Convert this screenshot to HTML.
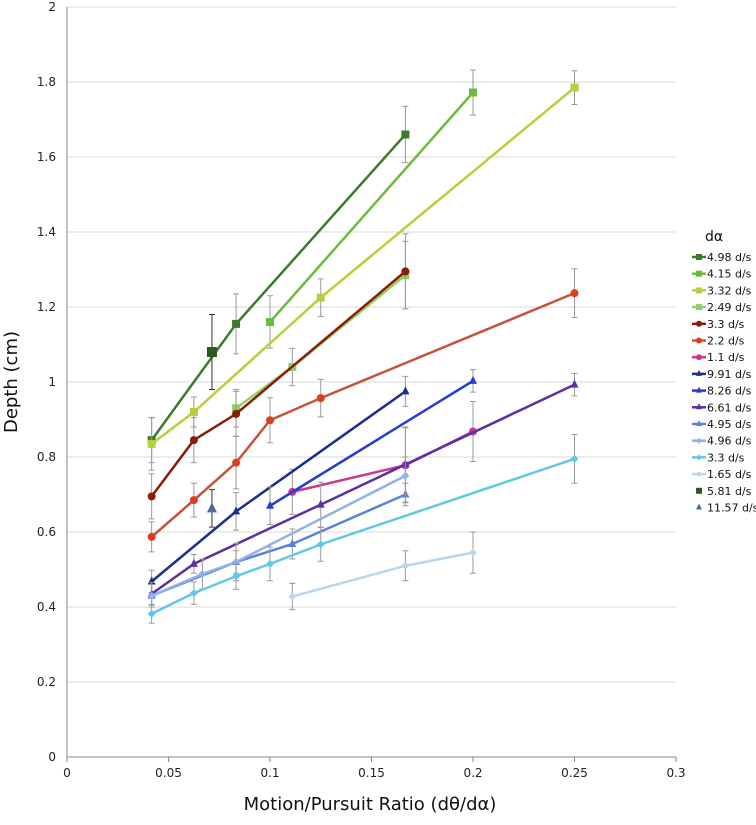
<!DOCTYPE html>
<html><head><meta charset="utf-8"><style>
body{margin:0;background:#fff;}
svg text{font-family:"DejaVu Sans","Liberation Sans",sans-serif;}
</style></head><body>
<svg id="chart" width="756" height="820"></svg>
<script>
const xTicks=[0,0.05,0.1,0.15,0.2,0.25,0.3];
const xTickLabels=["0","0.05","0.1","0.15","0.2","0.25","0.3"];
const yTicks=[0,0.2,0.4,0.6,0.8,1,1.2,1.4,1.6,1.8,2];
const yTickLabels=["0","0.2","0.4","0.6","0.8","1","1.2","1.4","1.6","1.8","2"];
const names=["4.98 d/s","4.15 d/s","3.32 d/s","2.49 d/s","3.3 d/s","2.2 d/s","1.1 d/s","9.91 d/s","8.26 d/s","6.61 d/s","4.95 d/s","4.96 d/s","3.3 d/s","1.65 d/s","5.81 d/s","11.57 d/s"];
const xs=[
[0.0417,0.0833,0.1667],
[0.1,0.2],
[0.0417,0.0625,0.125,0.25],
[0.0833,0.111,0.1667],
[0.0417,0.0625,0.0833,0.1667],
[0.0417,0.0625,0.0833,0.1,0.125,0.25],
[0.111,0.1667,0.2],
[0.0417,0.0833,0.1667],
[0.1,0.2],
[0.0417,0.0625,0.125,0.1667,0.25],
[0.0417,0.0833,0.111,0.1667],
[0.0417,0.0667,0.0833,0.1667],
[0.0417,0.0625,0.0833,0.1,0.125,0.25],
[0.111,0.1667,0.2],
[0.0714],
[0.0714]];
const ys=[
[0.845,1.155,1.66],
[1.16,1.772],
[0.835,0.92,1.225,1.785],
[0.93,1.04,1.285],
[0.695,0.845,0.915,1.295],
[0.587,0.685,0.785,0.898,0.957,1.237],
[0.707,0.778,0.868],
[0.468,0.655,0.975],
[0.67,1.003],
[0.435,0.515,0.673,0.78,0.993],
[0.43,0.52,0.568,0.70],
[0.43,0.488,0.52,0.75],
[0.382,0.437,0.482,0.515,0.567,0.795],
[0.428,0.51,0.545],
[1.08],
[0.663]];
const errs=[
[0.06,0.08,0.075],
[0.07,0.06],
[0.07,0.04,0.05,0.045],
[0.05,0.05,0.09],
[0.06,0.06,0.06,0.1],
[0.04,0.045,0.07,0.06,0.05,0.065],
[0.06,0.1,0.08],
[0.03,0.05,0.04],
[0.05,0.03],
[0.03,0.025,0.06,0.1,0.03],
[0.03,0.03,0.04,0.03],
[0.03,0.04,0.05,0.05],
[0.025,0.03,0.035,0.045,0.045,0.065],
[0.035,0.04,0.055],
[0.1],
[0.05]];
const colors=["#3d7a2a","#6cbb3c","#b3d23a","#8fd068","#8a1c08","#c8503e","#c8388c","#1f2d8e","#2a3cd0","#5a30a2","#5a82dc","#90b2e8","#60c6ec","#b8d6f0","#2e5a1e","#4a6a9a"];
const mcolors=["#3d7a2a","#6cbb3c","#b3d23a","#8fd068","#8a1c08","#e03c1c","#c8388c","#1f2d8e","#2a3cd0","#5a30a2","#5a82dc","#90b2e8","#60c6ec","#b8d6f0","#2e5a1e","#4a6a9a"];
const markers=["s","s","s","s","c","c","c","t","t","t","t","d","d","d","s","t"];

const svg=document.getElementById('chart');
const NS="http://www.w3.org/2000/svg";
const X=v=>67+v/0.3*609;
const Y=v=>757-v/2*750;
function mk(tag,attrs,parent){const e=document.createElementNS(NS,tag);for(const k in attrs)e.setAttribute(k,attrs[k]);(parent||svg).appendChild(e);return e;}

yTicks.forEach((t,i)=>{
  if(t>0){const g=mk('line',{x1:67,x2:676,y1:Y(t),y2:Y(t),stroke:'#d9d9d9','stroke-width':1});
  
  }
  const tx=mk('text',{x:56,y:Y(t)+4,'text-anchor':'end','font-size':12,fill:'#222'});tx.textContent=yTickLabels[i];
  
  
});
xTicks.forEach((t,i)=>{
  const tx=mk('text',{x:X(t),y:777,'text-anchor':'middle','font-size':12,fill:'#222'});tx.textContent=xTickLabels[i];
  
  
  const tk=mk('line',{x1:X(t),x2:X(t),y1:757,y2:762,stroke:'#888'});
  
  
});
const ax=mk('line',{x1:67,x2:676,y1:757,y2:757,stroke:'#888'});


const ay=mk('line',{x1:67,x2:67,y1:7,y2:757,stroke:'#888'});


const xt=mk('text',{x:370,y:810,'text-anchor':'middle','font-size':18,fill:'#111'});xt.textContent="Motion/Pursuit Ratio (dθ/dα)";


const yt=mk('text',{x:0,y:0,'text-anchor':'middle','font-size':18,fill:'#111',transform:'translate(17,382) rotate(-90)'});yt.textContent="Depth (cm)";



function marker(type,cx,cy,col,parent,s){
  s=s||4;
  if(type==='s')return mk('rect',{x:cx-s,y:cy-s,width:2*s,height:2*s,fill:col},parent);
  if(type==='c')return mk('circle',{cx:cx,cy:cy,r:s,fill:col},parent);
  if(type==='t')return mk('polygon',{points:`${cx},${cy-s-1} ${cx-s},${cy+s-1} ${cx+s},${cy+s-1}`,fill:col},parent);
  return mk('polygon',{points:`${cx},${cy-s} ${cx+s},${cy} ${cx},${cy+s} ${cx-s},${cy}`,fill:col},parent);
}

names.forEach((n,si)=>{
  const g=mk('g',{});
  
  
  xs[si].forEach((x,j)=>{
    const e=errs[si][j],cx=X(x);
    const col=si>=14?'#333':'#999';
    const eb=mk('path',{d:`M${cx},${Y(ys[si][j]+e)}V${Y(ys[si][j]-e)}M${cx-3},${Y(ys[si][j]+e)}h6M${cx-3},${Y(ys[si][j]-e)}h6`,stroke:col,'stroke-width':1,fill:'none'},g);
    
    
  });
  if(xs[si].length>1){
    const pl=mk('polyline',{points:xs[si].map((x,j)=>X(x)+','+Y(ys[si][j])).join(' '),fill:'none',stroke:colors[si],'stroke-width':2.5},g);
    
    
  }
  xs[si].forEach((x,j)=>{
    const m=marker(markers[si],X(x),Y(ys[si][j]),mcolors[si],g,si>=14?5:4);
    
    
  });
});

const lt=mk('text',{x:705,y:241,'font-size':14,fill:'#111'});lt.textContent="dα";


names.forEach((n,i)=>{
  const y=257+i*16.7;
  const g=mk('g',{});
  
  
  if(i<14)mk('line',{x1:692,x2:706,y1:y,y2:y,stroke:colors[i],'stroke-width':2.5},g);
  marker(markers[i],699,y,mcolors[i],g,3);
  const t=mk('text',{x:707,y:y+4,'font-size':11,fill:'#111'},g);t.textContent=n;
});
</script>
</body></html>
